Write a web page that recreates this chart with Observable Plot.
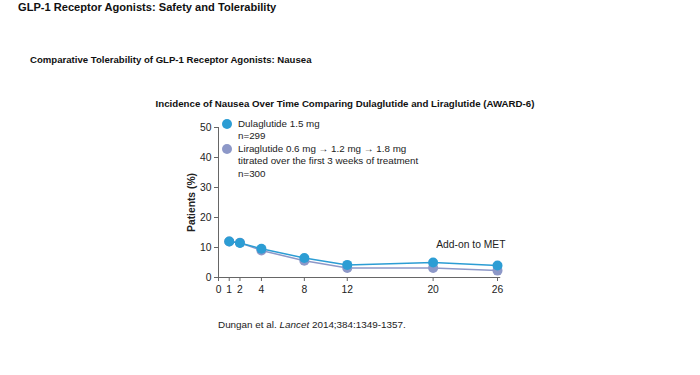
<!DOCTYPE html>
<html>
<head>
<meta charset="utf-8">
<script src="https://cdn.jsdelivr.net/npm/d3@7"></script>
<script src="https://cdn.jsdelivr.net/npm/@observablehq/plot@0.6"></script>
<style>
  body { margin: 0; background: #fff; font-family: "Liberation Sans", Arial, sans-serif; color: #111; }
  #wrap { position: relative; width: 700px; height: 375px; overflow: hidden; }
  #wrap svg { position: absolute; left: 0; top: 0; }
  .t { position: absolute; white-space: nowrap; }
  #title { left: 18px; top: 1px; font-size: 11.1px; font-weight: bold; }
  #sub { left: 30px; top: 54px; font-size: 9.6px; font-weight: bold; }
  #ctitle { left: -5px; width: 700px; text-align: center; top: 98px; font-size: 9.7px; font-weight: bold; }
  #cap { left: 218px; top: 319px; font-size: 9.9px; color: #222; }
  #legend { left: 221px; top: 118px; font-size: 9.8px; color: #222; line-height: 12.4px; }
  .li { position: relative; padding-left: 17px; }
  .sw { position: absolute; left: 1px; top: 1px; width: 10px; height: 10px; border-radius: 50%; }
</style>
</head>
<body>
<div id="wrap">
  <div class="t" id="title">GLP-1 Receptor Agonists: Safety and Tolerability</div>
  <div class="t" id="sub">Comparative Tolerability of GLP-1 Receptor Agonists: Nausea</div>
  <div class="t" id="ctitle">Incidence of Nausea Over Time Comparing Dulaglutide and Liraglutide (AWARD-6)</div>
  <div class="t" id="legend"></div>
  <div class="t" id="cap">Dungan et al. <i>Lancet</i> 2014;384:1349-1357.</div>
</div>
<script>
const weeks = [1, 2, 4, 8, 12, 20, 26];
const dulaglutide = [12, 11.5, 9.6, 6.5, 4.2, 5.0, 4.0];
const liraglutide = [12, 11.6, 9.0, 5.6, 3.2, 3.2, 2.3];
const xTicks = [0, 1, 2, 4, 8, 12, 20, 26];
const yTicks = [0, 10, 20, 30, 40, 50];
const seriesNames = ["Dulaglutide", "Liraglutide"];
const seriesColors = ["#2c9dd4", "#8d98c8"];
const legendLines = [
  ["Dulaglutide 1.5 mg", "n=299"],
  ["Liraglutide 0.6 mg \u2192 1.2 mg \u2192 1.8 mg", "titrated over the first 3 weeks of treatment", "n=300"]
];
const annotation = "Add-on to MET";

const rows = [];
weeks.forEach((w, i) => rows.push({week: w, value: liraglutide[i], series: seriesNames[1]}));
weeks.forEach((w, i) => rows.push({week: w, value: dulaglutide[i], series: seriesNames[0]}));

const color = {domain: seriesNames, range: seriesColors};

const chart = Plot.plot({
  width: 700,
  height: 375,
  marginLeft: 218,
  marginRight: 203,
  marginTop: 127,
  marginBottom: 98,
  style: {fontFamily: "'Liberation Sans', Arial, sans-serif", fontSize: "10.3px", color: "#222", background: "transparent"},
  x: {domain: [0, 26], label: null},
  y: {domain: [0, 50], label: "Patients (%)"},
  color,
  marks: [
    Plot.axisY({ticks: yTicks, tickSize: 4, tickPadding: 3, stroke: "#666", label: "Patients (%)", labelAnchor: "center", labelArrow: "none", labelOffset: 31}),
    Plot.axisX({ticks: xTicks, tickSize: 4, tickPadding: 4, stroke: "#666", label: null}),
    Plot.ruleX([0], {stroke: "#666"}),
    Plot.ruleY([0], {stroke: "#666", x1: 0, x2: 26.3}),
    Plot.line(rows, {x: "week", y: "value", stroke: "series", z: "series", strokeWidth: 1.5}),
    Plot.dot(rows, {x: "week", y: "value", fill: "series", r: 5}),
    Plot.text([annotation], {x: 26, y: 11, text: d => d, textAnchor: "end", dx: 8, fontSize: 10.3, fill: "#222"})
  ]
});
d3.select(chart).selectAll('g[aria-label="y-axis label"] text').attr("font-weight", "bold");
document.getElementById("wrap").prepend(chart);

const lg = document.getElementById("legend");
legendLines.forEach((lines, i) => {
  const item = document.createElement("div");
  item.className = "li";
  const sw = document.createElement("span");
  sw.className = "sw";
  sw.style.background = seriesColors[i];
  item.appendChild(sw);
  lines.forEach(l => {
    const d = document.createElement("div");
    d.textContent = l;
    item.appendChild(d);
  });
  lg.appendChild(item);
});
</script>
</body>
</html>
